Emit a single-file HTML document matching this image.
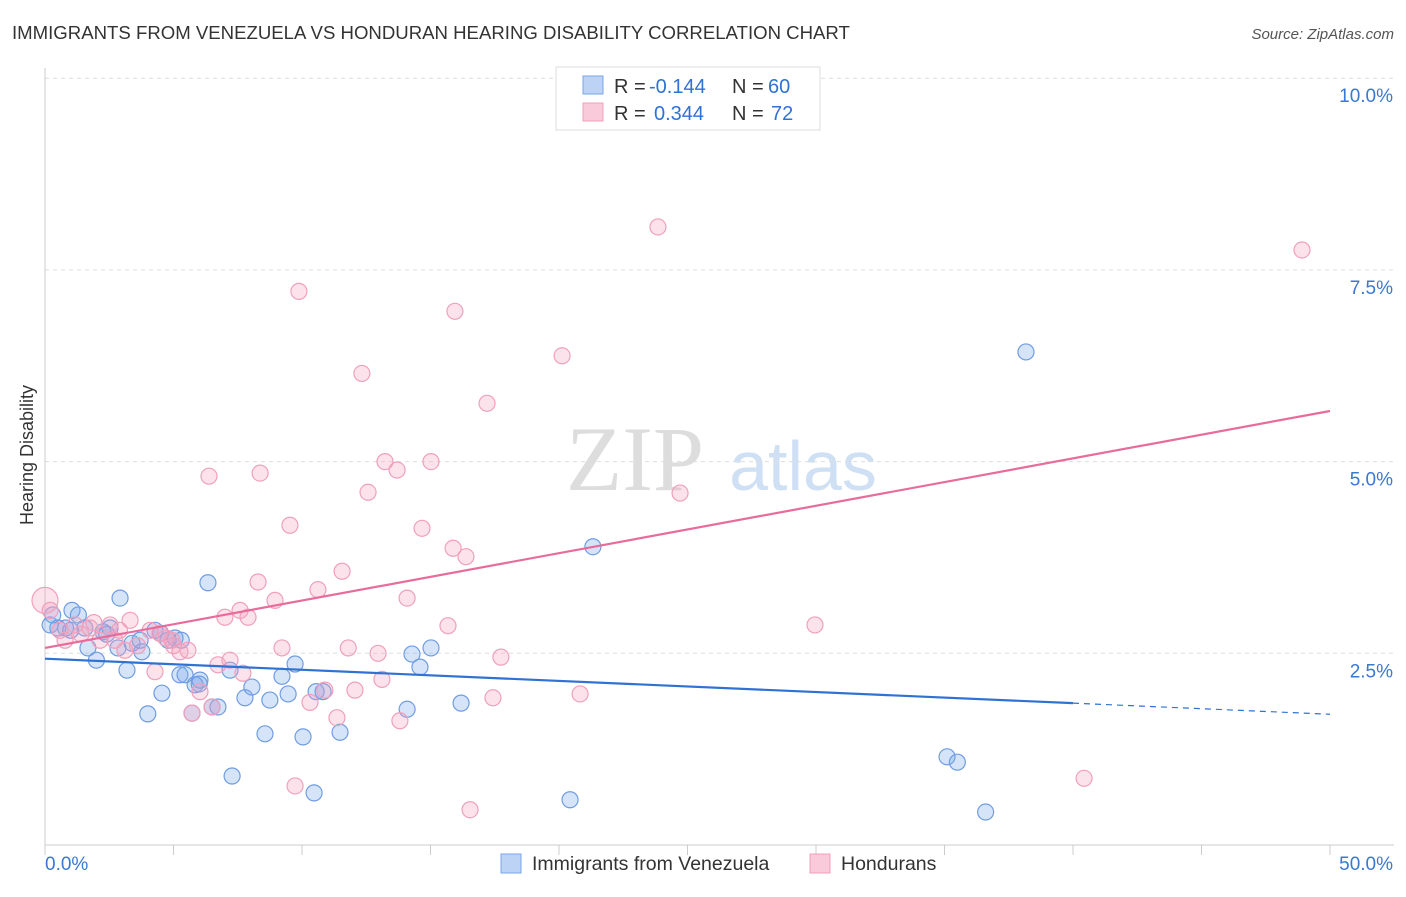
<!DOCTYPE html>
<html><head><meta charset="utf-8"><style>
body{margin:0;background:#fff;font-family:"Liberation Sans",sans-serif}
</style></head><body>
<svg width="1406" height="892" xmlns="http://www.w3.org/2000/svg" font-family="Liberation Sans, sans-serif">
<text x="12" y="39" font-size="18.6" fill="#333">IMMIGRANTS FROM VENEZUELA VS HONDURAN HEARING DISABILITY CORRELATION CHART</text>
<text x="1394" y="39" font-size="15" fill="#555" text-anchor="end" font-style="italic">Source: ZipAtlas.com</text>
<g><text x="635" y="490" font-size="92" fill="#ddd" text-anchor="middle" font-family="Liberation Serif, serif">ZIP</text><text x="803" y="490" font-size="70" fill="#cfe0f5" text-anchor="middle">atlas</text></g>
<g id="grid"></g>
<g id="axes"></g>
<g id="pts"></g>
<g id="lines"></g>
<text transform="translate(33,455) rotate(-90)" font-size="18" fill="#333" text-anchor="middle">Hearing Disability</text>
<g font-size="20">
<rect x="556" y="67" width="264" height="63" fill="#fff" stroke="#ddd"/>
<rect x="583" y="76" width="20" height="18" fill="#bcd3f5" stroke="#7aa6e6"/>
<rect x="583" y="103" width="20" height="18" fill="#f9cad9" stroke="#f0a0bb"/>
<text x="614" y="93" fill="#333">R =</text><text x="649" y="93" fill="#2f72d4">-0.144</text>
<text x="732" y="93" fill="#333">N =</text><text x="768" y="93" fill="#2f72d4">60</text>
<text x="614" y="120" fill="#333">R =</text><text x="654" y="120" fill="#2f72d4">0.344</text>
<text x="732" y="120" fill="#333">N =</text><text x="771" y="120" fill="#2f72d4">72</text>
</g>
<g>
<rect x="501" y="854" width="20" height="19" fill="#bcd3f5" stroke="#7aa6e6"/>
<text x="532" y="870" font-size="19.5" fill="#333">Immigrants from Venezuela</text>
<rect x="810" y="854" width="20" height="19" fill="#f9cad9" stroke="#f0a0bb"/>
<text x="841" y="870" font-size="19.5" fill="#333">Hondurans</text>
</g>
</svg>
<script>
const blueX=[0.2,0.5,0.8,1.05,1.3,1.55,1.67,2.0,2.26,2.53,2.92,2.84,3.19,3.39,3.77,4.0,4.28,4.55,4.79,5.06,5.25,5.45,5.84,5.72,6.03,6.34,6.5,6.73,7.2,7.28,7.78,8.05,8.56,8.75,9.22,9.46,9.73,10.04,10.47,10.55,10.82,11.48,14.09,14.28,14.59,15.02,16.19,20.43,21.32,35.1,35.5,36.6,38.17,3.7,4.5,5.3,1.0,2.4,0.3,6.0];
const blueY=[2.87,2.83,2.83,3.06,3.0,2.83,2.57,2.41,2.78,2.83,3.22,2.57,2.28,2.63,2.52,1.71,2.8,1.98,2.67,2.7,2.22,2.22,2.09,1.72,2.15,3.42,1.8,1.8,2.28,0.9,1.92,2.06,1.45,1.89,2.2,1.97,2.36,1.41,0.68,2.0,2.0,1.47,1.77,2.49,2.32,2.57,1.85,0.59,3.89,1.15,1.08,0.43,6.43,2.67,2.76,2.67,2.8,2.75,3.0,2.1];
const pinkX=[0,0.2,0.58,1.17,1.75,2.14,2.53,2.72,3.11,3.31,4.09,4.28,4.47,4.94,5.25,5.56,5.72,6.03,6.38,6.5,6.73,7.0,7.2,7.59,7.7,7.9,8.29,8.37,8.95,9.22,9.53,9.73,9.88,10.31,10.62,10.89,11.36,11.56,11.8,12.06,12.33,12.57,12.96,13.11,13.23,13.7,13.81,14.09,14.67,15.68,15.88,15.95,16.38,16.54,17.2,17.43,17.74,20.12,20.82,23.85,24.71,29.96,40.43,48.91,15.02,0.78,1.4,3.6,4.7,2.9,5.0,1.9];
const pinkY=[3.19,3.06,2.8,2.87,2.83,2.67,2.87,2.67,2.54,2.93,2.8,2.26,2.76,2.67,2.52,2.54,1.72,2.0,4.81,1.8,2.35,2.97,2.41,3.06,2.24,2.97,3.43,4.85,3.19,2.57,4.17,0.77,7.22,1.86,3.33,2.02,1.66,3.57,2.57,2.02,6.15,4.6,2.5,2.16,5.0,4.89,1.62,3.22,4.13,2.86,3.87,6.96,3.76,0.46,5.76,1.92,2.45,6.38,1.97,8.06,4.59,2.87,0.87,7.76,5.0,2.67,2.75,2.6,2.7,2.8,2.6,2.9];
const yTicks=[2.5,5.0,7.5,10.0];
const xTickLabels=["0.0%","50.0%"];
const X0=45,X1=1330,Y0=845,PY=76.68;
const sx=v=>X0+(v/50)*(X1-X0), sy=v=>Y0-v*PY;
const NS="http://www.w3.org/2000/svg";
function mk(t,a,p){const e=document.createElementNS(NS,t);for(const k in a)e.setAttribute(k,a[k]);p.appendChild(e);return e;}
const grid=document.getElementById('grid'),axes=document.getElementById('axes'),pts=document.getElementById('pts'),lines=document.getElementById('lines');
yTicks.forEach(v=>{const l=mk('line',{x1:X0,x2:1394,y1:sy(v),y2:sy(v),stroke:'#ddd','stroke-dasharray':'4,4'},grid);


const t=mk('text',{x:1393,y:sy(v)+24,'font-size':19,fill:'#3b78d0','text-anchor':'end'},grid);t.textContent=v.toFixed(1)+'%';

});
const ax=mk('line',{x1:X0,x2:X0,y1:68,y2:Y0,stroke:'#ccc'},axes);


const bx=mk('line',{x1:X0,x2:1394,y1:Y0,y2:Y0,stroke:'#ccc'},axes);


for(let i=0;i<=10;i++){const tk=mk('line',{x1:sx(i*5),x2:sx(i*5),y1:Y0,y2:Y0+10,stroke:'#ccc'},axes);

}
[[0,'start',45],[50,'end',1393]].forEach((d,i)=>{const t=mk('text',{x:d[2],y:870,'font-size':19,fill:'#3b78d0','text-anchor':d[1]},axes);t.textContent=xTickLabels[i];

});
blueX.forEach((x,i)=>{const c=mk('circle',{cx:sx(x),cy:sy(blueY[i]),r:8,fill:'rgba(120,165,235,0.3)',stroke:'#6f9de2','stroke-width':1.2},pts);

});
pinkX.forEach((x,i)=>{const c=mk('circle',{cx:sx(x),cy:sy(pinkY[i]),r:i==0?13:8,fill:'rgba(245,160,190,0.3)',stroke:'#f0a0bb','stroke-width':1.2},pts);

});
const bA=2.43,bB=-0.0145,pA=2.57,pB=0.0618;
const l1=mk('line',{x1:sx(0),y1:sy(bA),x2:sx(40),y2:sy(bA+bB*40),stroke:'#2f72d4','stroke-width':2.2},lines);


const l2=mk('line',{x1:sx(40),y1:sy(bA+bB*40),x2:sx(50),y2:sy(bA+bB*50),stroke:'#2f72d4','stroke-width':1.2,'stroke-dasharray':'6,5'},lines);


const l3=mk('line',{x1:sx(0),y1:sy(pA),x2:sx(50),y2:sy(pA+pB*50),stroke:'#e86c9a','stroke-width':2.2},lines);


</script>
</body></html>
